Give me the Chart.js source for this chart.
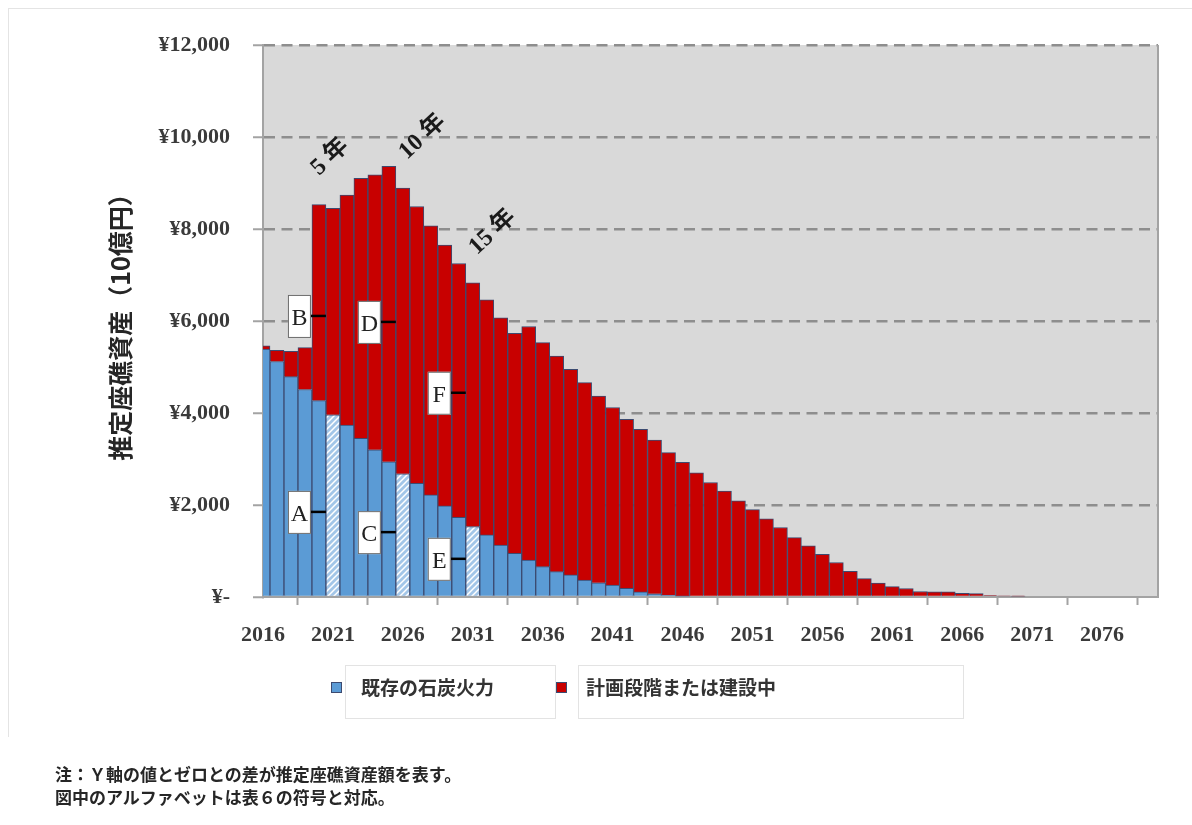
<!DOCTYPE html>
<html>
<head>
<meta charset="utf-8">
<script src="https://cdn.jsdelivr.net/npm/chart.js@4.4.0/dist/chart.umd.min.js"></script>
<style>
  body { margin: 0; background: #fff; }
  #wrap { position: relative; width: 1192px; height: 825px; overflow: hidden; }
  #frame { position: absolute; left: 8px; top: 8px; width: 1190px; height: 728px; border-top: 1px solid #e4e4e4; border-left: 1px solid #e4e4e4; }
  #chart { position: absolute; left: 0; top: 0; }
  .note { position: absolute; left: 55px; top: 762px; font: bold 17px "Noto Sans CJK JP", sans-serif; line-height: 23px; color: #262626; }
</style>
</head>
<body>
<div id="wrap">
  <div id="frame"></div>
  <canvas id="chart" width="1192" height="825"></canvas>
  <div class="note">注：Ｙ軸の値とゼロとの差が推定座礁資産額を表す。<br>図中のアルファベットは表６の符号と対応。</div>
</div>
<script>
const years = [
  2016, 2017, 2018, 2019, 2020, 2021, 2022, 2023, 2024, 2025,
  2026, 2027, 2028, 2029, 2030, 2031, 2032, 2033, 2034, 2035,
  2036, 2037, 2038, 2039, 2040, 2041, 2042, 2043, 2044, 2045,
  2046, 2047, 2048, 2049, 2050, 2051, 2052, 2053, 2054, 2055,
  2056, 2057, 2058, 2059, 2060, 2061, 2062, 2063, 2064, 2065,
  2066, 2067, 2068, 2069, 2070, 2071, 2072, 2073, 2074, 2075,
  2076, 2077, 2078, 2079, 2080
];

// 既存の石炭火力 (10億円)
const existing = [
  5390, 5120, 4790, 4510, 4270, 3960, 3740, 3450, 3200, 2940,
  2680, 2470, 2220, 1980, 1730, 1530, 1350, 1130, 950, 800,
  660, 550, 480, 370, 310, 260, 190, 110, 70, 40,
  20, 0, 0, 0, 0, 0, 0, 0, 0, 0,
  0, 0, 0, 0, 0, 0, 0, 0, 0, 0,
  0, 0, 0, 0, 0, 0, 0, 0, 0, 0,
  0, 0, 0, 0, 0
];

// 計画段階または建設中 (10億円)
const planned = [
  70, 240, 550, 910, 4260, 4490, 5000, 5650, 5980, 6420,
  6210, 6020, 5850, 5670, 5520, 5300, 5110, 4940, 4780, 5080,
  4870, 4690, 4470, 4290, 4060, 3860, 3670, 3535, 3340, 3100,
  2910, 2700, 2490, 2300, 2090, 1900, 1700, 1510, 1290, 1110,
  930, 750, 560, 400, 300, 225, 185, 120, 115, 115,
  80, 75, 30, 25, 20, 0, 0, 0, 0, 0,
  0, 0, 0, 0, 0
];

const seriesNames = ['既存の石炭火力', '計画段階または建設中'];
const hatchedYears = [2021, 2026, 2031];
const yTicks = [0, 2000, 4000, 6000, 8000, 10000, 12000];

// letter callouts: year of the bar the leader points at, value of the leader
const markLetters = ['A', 'B', 'C', 'D', 'E', 'F'];
const markYears = [2021, 2021, 2026, 2026, 2031, 2031];
const markValues = [1850, 6110, 1410, 5980, 830, 4440];

// rotated "n 年" notes
const spanLabels = ['5 年', '10 年', '15 年'];
const spanYears = [2020, 2026.3, 2031.3];
const spanValues = [9150, 9500, 7430];

document.addEventListener('DOMContentLoaded', () => {
    const canvas = document.getElementById('chart');
    const ctx = canvas.getContext('2d');

    const BLUE = '#5b9bd5';
    const RED = '#c80000';
    const EDGE = '#3c4a70';
    const AXIS = '#a3a3a3';

    // light blue / white diagonal hatch for the marked years
    const tile = document.createElement('canvas');
    tile.width = 6; tile.height = 6;
    const tctx = tile.getContext('2d');
    tctx.fillStyle = '#a3c6e8';
    tctx.fillRect(0, 0, 6, 6);
    tctx.strokeStyle = '#ffffff';
    tctx.lineWidth = 1.5;
    tctx.beginPath();
    tctx.moveTo(0, 6); tctx.lineTo(6, 0);
    tctx.moveTo(-3, 3); tctx.lineTo(3, -3);
    tctx.moveTo(3, 9); tctx.lineTo(9, 3);
    tctx.stroke();
    const hatch = ctx.createPattern(tile, 'repeat');

    const blueFill = years.map(y => hatchedYears.includes(y) ? hatch : BLUE);

    const plotBackground = {
        id: 'plotBackground',
        beforeDraw(chart) {
            const { ctx, chartArea: a } = chart;
            ctx.save();
            ctx.fillStyle = '#d9d9d9';
            ctx.fillRect(a.left, a.top, a.right - a.left, a.bottom - a.top);
            ctx.restore();
        },
        afterDraw(chart) {
            const { ctx, chartArea: a } = chart;
            ctx.save();
            ctx.strokeStyle = AXIS;
            ctx.lineWidth = 2;
            ctx.beginPath();
            ctx.moveTo(a.right, a.top);
            ctx.lineTo(a.right, a.bottom);
            ctx.stroke();
            ctx.restore();
        }
    };

    const callouts = {
        id: 'callouts',
        afterDatasetsDraw(chart) {
            const { ctx, scales: { x, y } } = chart;
            ctx.save();
            markLetters.forEach((t, i) => {
                const ex = x.getPixelForValue(years.indexOf(markYears[i]) - 0.5);
                const ey = y.getPixelForValue(markValues[i]);
                const sx = ex - 15;
                ctx.strokeStyle = '#000';
                ctx.lineWidth = 2.5;
                ctx.beginPath();
                ctx.moveTo(sx, ey);
                ctx.lineTo(ex, ey);
                ctx.stroke();
                ctx.fillStyle = '#fff';
                ctx.fillRect(sx - 23, ey - 21, 23, 43);
                ctx.strokeStyle = '#6b6b6b';
                ctx.lineWidth = 1;
                ctx.strokeRect(sx - 23 + 0.5, ey - 21 + 0.5, 22, 42);
                ctx.fillStyle = '#222';
                ctx.font = '24px "Liberation Serif", serif';
                ctx.textAlign = 'center';
                ctx.textBaseline = 'middle';
                ctx.fillText(t, sx - 11.5, ey + 3);
            });
            spanLabels.forEach((t, i) => {
                const px = x.getPixelForValue(spanYears[i] - years[0]);
                const py = y.getPixelForValue(spanValues[i]);
                ctx.save();
                ctx.translate(px, py);
                ctx.rotate(-43 * Math.PI / 180);
                ctx.fillStyle = '#1a1a1a';
                ctx.font = 'bold 24px "Liberation Serif", "Noto Sans CJK JP", serif';
                ctx.textAlign = 'left';
                ctx.textBaseline = 'alphabetic';
                ctx.fillText(t, 0, 0);
                ctx.restore();
            });
            ctx.restore();
        }
    };

    const bottomLegend = {
        id: 'bottomLegend',
        afterDraw(chart) {
            const { ctx } = chart;
            ctx.save();
            ctx.strokeStyle = '#e3e3e3';
            ctx.lineWidth = 1;
            ctx.strokeRect(345.5, 665.5, 210, 53);
            ctx.strokeRect(578.5, 665.5, 385, 53);
            const items = [
                { x: 331, color: BLUE, text: chart.data.datasets[0].label },
                { x: 556, color: RED, text: chart.data.datasets[1].label }
            ];
            ctx.font = 'bold 19px "Noto Sans CJK JP", sans-serif';
            ctx.textBaseline = 'middle';
            ctx.textAlign = 'left';
            items.forEach(it => {
                ctx.fillStyle = it.color;
                ctx.fillRect(it.x, 682, 11, 11);
                ctx.strokeStyle = EDGE;
                ctx.strokeRect(it.x + 0.5, 682.5, 10, 10);
                ctx.fillStyle = '#333';
                ctx.fillText(it.text, it.x + 30, 688);
            });
            ctx.restore();
        }
    };

    const config = {
        type: 'bar',
        data: {
            labels: years,
            datasets: [
                { label: seriesNames[0], data: existing, backgroundColor: blueFill, borderColor: EDGE, borderWidth: 1, clip: 0 },
                { label: seriesNames[1], data: planned, backgroundColor: RED, borderColor: EDGE, borderWidth: 1, clip: 0 }
            ]
        },
        options: {
            responsive: false,
            animation: false,
            categoryPercentage: 1,
            barPercentage: 1,
            layout: { padding: { top: 45, right: 34, bottom: 168, left: 0 } },
            plugins: {
                legend: { display: false },
                tooltip: { enabled: false }
            },
            scales: {
                x: {
                    stacked: true,
                    offset: false,
                    afterFit: s => { s.height = 60; },
                    afterBuildTicks: s => { s.ticks = s.ticks.filter(t => t.value % 5 === 0); },
                    grid: { drawOnChartArea: false, drawTicks: true, tickLength: 8, tickColor: AXIS, tickWidth: 2 },
                    border: { display: true, color: AXIS, width: 2 },
                    ticks: {
                        autoSkip: false, maxRotation: 0, padding: 17,
                        color: '#3a3a3a',
                        font: { family: '"Liberation Serif", serif', size: 22, weight: 'bold' }
                    }
                },
                y: {
                    stacked: true,
                    min: 0,
                    max: 12000,
                    afterFit: s => { s.width = 263; },
                    afterBuildTicks: s => { s.ticks = yTicks.map(v => ({ value: v })); },
                    grid: {
                        color: c => c.tick && c.tick.value === 0 ? 'rgba(0,0,0,0)' : '#8e8e8e',
                        lineWidth: 2.5,
                        drawTicks: true, tickLength: 10, tickColor: AXIS, tickWidth: 2
                    },
                    border: { display: true, color: AXIS, width: 2, dash: [11, 6.5] },
                    title: {
                        display: true,
                        text: '推定座礁資産（10億円）',
                        color: '#262626',
                        font: { family: '"Noto Sans CJK JP", sans-serif', size: 25, weight: 'bold' },
                        padding: { top: 105, bottom: 0 }
                    },
                    ticks: {
                        padding: 23,
                        color: '#3a3a3a',
                        font: { family: '"Liberation Serif", serif', size: 22, weight: 'bold' },
                        callback: v => v === 0 ? '¥-' : '¥' + v.toLocaleString('en-US')
                    }
                }
            }
        },
        plugins: [plotBackground, callouts, bottomLegend]
    };

    new Chart(ctx, config);
});
</script>
</body>
</html>
